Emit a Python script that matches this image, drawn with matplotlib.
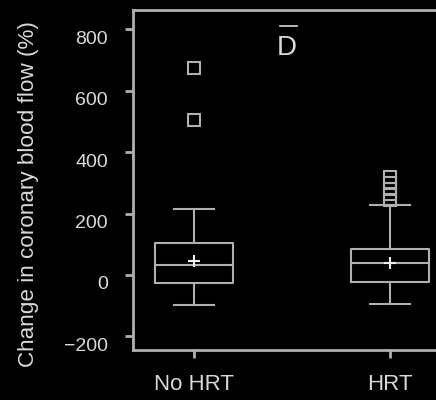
import matplotlib
matplotlib.use("Agg")
import matplotlib.pyplot as plt
from matplotlib.lines import Line2D
from matplotlib.transforms import ScaledTranslation

# summary values (% change in coronary blood flow)
groups = ["No HRT", "HRT"]
whislo = [-96, -94]
q1 = [-25, -23]
med = [32, 39]
q3 = [104, 85]
whishi = [215, 228]
means = [46, 39]
fliers = [[504, 673], [245, 262, 280, 300, 318]]
yticks = [-200, 0, 200, 400, 600, 800]

fg = "#d9d9d9"
line_col = "#b0b0b0"
plt.rcParams["font.family"] = ["Liberation Sans", "DejaVu Sans"]

fig = plt.figure(figsize=(4.36, 4.0), dpi=100, facecolor="black")
ax = fig.add_axes([133 / 436, 50 / 400, 1.2, 340 / 400])
ax.set_facecolor("black")

stats = []
for i, g in enumerate(groups):
    stats.append(dict(label=g, whislo=whislo[i], q1=q1[i], med=med[i], q3=q3[i],
                      whishi=whishi[i], mean=means[i], fliers=fliers[i]))

lp = dict(color=line_col, linewidth=1.5)
ax.bxp(stats, positions=[1, 2], widths=0.4, showmeans=True, showfliers=True,
       boxprops=lp, whiskerprops=lp, capprops=lp, medianprops=lp,
       capwidths=0.2,
       meanprops=dict(marker="+", markeredgecolor="#f0f0f0", markersize=8,
                      markeredgewidth=1.5),
       flierprops=dict(marker="s", markerfacecolor="none", markeredgecolor=line_col,
                       markersize=8, markeredgewidth=1.5))

ax.set_xlim(0.689, 0.689 + 1.2 * 436 / 196)
ax.set_ylim(-244, 862)
ax.set_yticks(yticks)
ax.set_xticks([1, 2])
ax.set_xticklabels(groups)

for s in ["left", "top", "bottom", "right"]:
    ax.spines[s].set_color(line_col)
    ax.spines[s].set_linewidth(2)
ax.tick_params(colors=line_col, width=2, length=6)
ax.tick_params(axis="y", labelsize=14, labelcolor=fg, pad=12)
ax.tick_params(axis="x", labelsize=16, labelcolor=fg, pad=11)

# tick labels in the original sit a little below their ticks
shift = ScaledTranslation(0, -8 / 100, fig.dpi_scale_trans)
for lab in ax.get_yticklabels():
    lab.set_transform(lab.get_transform() + shift)

ax.set_ylabel("Change in coronary blood flow (%)", color=fg, fontsize=16.2)
ax.yaxis.set_label_coords(-94 / 436 / 1.2, 0.458)

fig.text(287 / 436, 1 - 48 / 400, "D", color=fg, fontsize=20, ha="center", va="center")
fig.add_artist(Line2D([280 / 436, 297 / 436], [1 - 26 / 400, 1 - 26 / 400],
                      color=fg, linewidth=1.2))

fig.savefig("out.png", dpi=100, facecolor="black")
